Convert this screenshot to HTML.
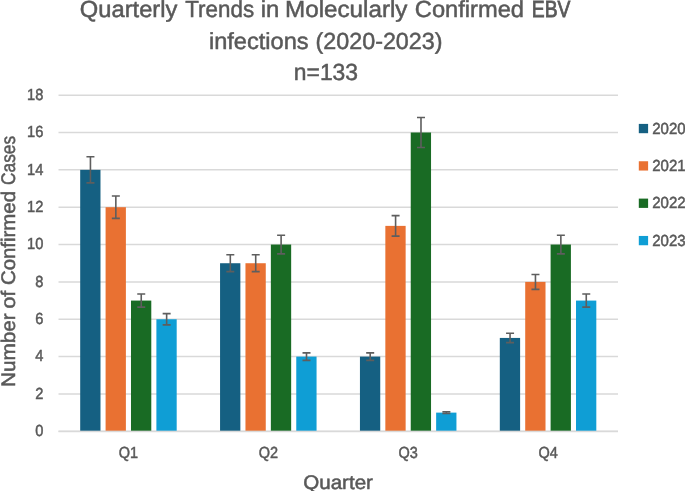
<!DOCTYPE html>
<html><head><meta charset="utf-8"><title>Quarterly Trends in Molecularly Confirmed EBV infections</title>
<style>html,body{margin:0;padding:0;background:#fff;}body{width:685px;height:491px;overflow:hidden;}svg{display:block;will-change:transform;}text{font-family:"Liberation Sans",sans-serif;fill:#595959;stroke:#595959;stroke-width:0.5px;text-rendering:geometricPrecision;}</style></head><body>
<svg width="685" height="491" viewBox="0 0 685 491">
<rect x="0" y="0" width="685" height="491" fill="#ffffff"/>
<line x1="58.5" y1="431.30" x2="618.0" y2="431.30" stroke="#D9D9D9" stroke-width="1.5"/>
<line x1="58.5" y1="393.95" x2="618.0" y2="393.95" stroke="#D9D9D9" stroke-width="1.5"/>
<line x1="58.5" y1="356.60" x2="618.0" y2="356.60" stroke="#D9D9D9" stroke-width="1.5"/>
<line x1="58.5" y1="319.25" x2="618.0" y2="319.25" stroke="#D9D9D9" stroke-width="1.5"/>
<line x1="58.5" y1="281.90" x2="618.0" y2="281.90" stroke="#D9D9D9" stroke-width="1.5"/>
<line x1="58.5" y1="244.55" x2="618.0" y2="244.55" stroke="#D9D9D9" stroke-width="1.5"/>
<line x1="58.5" y1="207.20" x2="618.0" y2="207.20" stroke="#D9D9D9" stroke-width="1.5"/>
<line x1="58.5" y1="169.85" x2="618.0" y2="169.85" stroke="#D9D9D9" stroke-width="1.5"/>
<line x1="58.5" y1="132.50" x2="618.0" y2="132.50" stroke="#D9D9D9" stroke-width="1.5"/>
<line x1="58.5" y1="95.15" x2="618.0" y2="95.15" stroke="#D9D9D9" stroke-width="1.5"/>
<rect x="80.19" y="169.85" width="20.30" height="261.05" fill="#156082"/>
<rect x="105.59" y="207.20" width="20.30" height="223.70" fill="#E97132"/>
<rect x="130.99" y="300.58" width="20.30" height="130.33" fill="#196B24"/>
<rect x="156.39" y="319.25" width="20.30" height="111.65" fill="#0F9ED5"/>
<rect x="220.06" y="263.23" width="20.30" height="167.68" fill="#156082"/>
<rect x="245.46" y="263.23" width="20.30" height="167.68" fill="#E97132"/>
<rect x="270.86" y="244.55" width="20.30" height="186.35" fill="#196B24"/>
<rect x="296.26" y="356.60" width="20.30" height="74.30" fill="#0F9ED5"/>
<rect x="359.94" y="356.60" width="20.30" height="74.30" fill="#156082"/>
<rect x="385.34" y="225.88" width="20.30" height="205.03" fill="#E97132"/>
<rect x="410.74" y="132.50" width="20.30" height="298.40" fill="#196B24"/>
<rect x="436.14" y="412.62" width="20.30" height="18.28" fill="#0F9ED5"/>
<rect x="499.81" y="337.93" width="20.30" height="92.98" fill="#156082"/>
<rect x="525.21" y="281.90" width="20.30" height="149.00" fill="#E97132"/>
<rect x="550.61" y="244.55" width="20.30" height="186.35" fill="#196B24"/>
<rect x="576.01" y="300.58" width="20.30" height="130.33" fill="#0F9ED5"/>
<line x1="58.5" y1="431.60" x2="618.0" y2="431.60" stroke="#D9D9D9" stroke-width="1.5"/>
<path d="M86.44 156.78H94.44M90.44 156.78V182.92M86.44 182.92H94.44" stroke="#5E5E5E" stroke-width="1.6" fill="none"/>
<path d="M111.84 196.00H119.84M115.84 196.00V218.41M111.84 218.41H119.84" stroke="#5E5E5E" stroke-width="1.6" fill="none"/>
<path d="M137.24 294.04H145.24M141.24 294.04V307.11M137.24 307.11H145.24" stroke="#5E5E5E" stroke-width="1.6" fill="none"/>
<path d="M162.64 313.65H170.64M166.64 313.65V324.85M162.64 324.85H170.64" stroke="#5E5E5E" stroke-width="1.6" fill="none"/>
<path d="M226.31 254.82H234.31M230.31 254.82V271.63M226.31 271.63H234.31" stroke="#5E5E5E" stroke-width="1.6" fill="none"/>
<path d="M251.71 254.82H259.71M255.71 254.82V271.63M251.71 271.63H259.71" stroke="#5E5E5E" stroke-width="1.6" fill="none"/>
<path d="M277.11 235.21H285.11M281.11 235.21V253.89M277.11 253.89H285.11" stroke="#5E5E5E" stroke-width="1.6" fill="none"/>
<path d="M302.51 352.87H310.51M306.51 352.87V360.34M302.51 360.34H310.51" stroke="#5E5E5E" stroke-width="1.6" fill="none"/>
<path d="M366.19 352.87H374.19M370.19 352.87V360.34M366.19 360.34H374.19" stroke="#5E5E5E" stroke-width="1.6" fill="none"/>
<path d="M391.59 215.60H399.59M395.59 215.60V236.15M391.59 236.15H399.59" stroke="#5E5E5E" stroke-width="1.6" fill="none"/>
<path d="M416.99 117.56H424.99M420.99 117.56V147.44M416.99 147.44H424.99" stroke="#5E5E5E" stroke-width="1.6" fill="none"/>
<path d="M442.39 411.69H450.39M446.39 411.69V413.56M442.39 413.56H450.39" stroke="#5E5E5E" stroke-width="1.6" fill="none"/>
<path d="M506.06 333.26H514.06M510.06 333.26V342.59M506.06 342.59H514.06" stroke="#5E5E5E" stroke-width="1.6" fill="none"/>
<path d="M531.46 274.43H539.46M535.46 274.43V289.37M531.46 289.37H539.46" stroke="#5E5E5E" stroke-width="1.6" fill="none"/>
<path d="M556.86 235.21H564.86M560.86 235.21V253.89M556.86 253.89H564.86" stroke="#5E5E5E" stroke-width="1.6" fill="none"/>
<path d="M582.26 294.04H590.26M586.26 294.04V307.11M582.26 307.11H590.26" stroke="#5E5E5E" stroke-width="1.6" fill="none"/>
<text x="35.15" y="436.05" font-size="16.0" textLength="8.15" lengthAdjust="spacingAndGlyphs">0</text>
<text x="35.15" y="398.70" font-size="16.0" textLength="8.15" lengthAdjust="spacingAndGlyphs">2</text>
<text x="35.15" y="361.35" font-size="16.0" textLength="8.15" lengthAdjust="spacingAndGlyphs">4</text>
<text x="35.15" y="324.00" font-size="16.0" textLength="8.15" lengthAdjust="spacingAndGlyphs">6</text>
<text x="35.15" y="286.65" font-size="16.0" textLength="8.15" lengthAdjust="spacingAndGlyphs">8</text>
<text x="27.00" y="249.30" font-size="16.0" textLength="16.30" lengthAdjust="spacingAndGlyphs">10</text>
<text x="27.00" y="211.95" font-size="16.0" textLength="16.30" lengthAdjust="spacingAndGlyphs">12</text>
<text x="27.00" y="174.60" font-size="16.0" textLength="16.30" lengthAdjust="spacingAndGlyphs">14</text>
<text x="27.00" y="137.25" font-size="16.0" textLength="16.30" lengthAdjust="spacingAndGlyphs">16</text>
<text x="27.00" y="99.90" font-size="16.0" textLength="16.30" lengthAdjust="spacingAndGlyphs">18</text>
<text x="128.44" y="458.2" font-size="16.0" text-anchor="middle" textLength="19.3" lengthAdjust="spacingAndGlyphs">Q1</text>
<text x="268.31" y="458.2" font-size="16.0" text-anchor="middle" textLength="19.3" lengthAdjust="spacingAndGlyphs">Q2</text>
<text x="408.19" y="458.2" font-size="16.0" text-anchor="middle" textLength="19.3" lengthAdjust="spacingAndGlyphs">Q3</text>
<text x="548.06" y="458.2" font-size="16.0" text-anchor="middle" textLength="19.3" lengthAdjust="spacingAndGlyphs">Q4</text>
<rect x="638.8" y="123.90" width="9.3" height="9.3" fill="#156082"/>
<text x="652.2" y="133.50" font-size="16.0" textLength="33.4" lengthAdjust="spacingAndGlyphs">2020</text>
<rect x="638.8" y="161.25" width="9.3" height="9.3" fill="#E97132"/>
<text x="652.2" y="170.85" font-size="16.0" textLength="33.4" lengthAdjust="spacingAndGlyphs">2021</text>
<rect x="638.8" y="198.60" width="9.3" height="9.3" fill="#196B24"/>
<text x="652.2" y="208.20" font-size="16.0" textLength="33.4" lengthAdjust="spacingAndGlyphs">2022</text>
<rect x="638.8" y="235.95" width="9.3" height="9.3" fill="#0F9ED5"/>
<text x="652.2" y="245.55" font-size="16.0" textLength="33.4" lengthAdjust="spacingAndGlyphs">2023</text>
<text x="79.87" y="17.30" font-size="23.3" textLength="97.49" lengthAdjust="spacingAndGlyphs">Quarterly</text>
<text x="185.29" y="17.30" font-size="23.3" textLength="68.81" lengthAdjust="spacingAndGlyphs">Trends</text>
<text x="260.76" y="17.30" font-size="23.3" textLength="18.60" lengthAdjust="spacingAndGlyphs">in</text>
<text x="285.06" y="17.30" font-size="23.3" textLength="122.42" lengthAdjust="spacingAndGlyphs">Molecularly</text>
<text x="414.80" y="17.30" font-size="23.3" textLength="109.22" lengthAdjust="spacingAndGlyphs">Confirmed</text>
<text x="531.81" y="17.30" font-size="23.3" textLength="38.66" lengthAdjust="spacingAndGlyphs" style="stroke-width:0.8px">EBV</text>
<text x="208.93" y="48.70" font-size="23.3" textLength="99.64" lengthAdjust="spacingAndGlyphs">infections</text>
<text x="315.51" y="48.70" font-size="23.3" textLength="127.03" lengthAdjust="spacingAndGlyphs">(2020-2023)</text>
<text x="293.80" y="80.00" font-size="23.3" textLength="64.25" lengthAdjust="spacingAndGlyphs">n=133</text>
<text x="303.20" y="488.80" font-size="19.6" textLength="69.78" lengthAdjust="spacingAndGlyphs">Quarter</text>
<text transform="translate(15.0 387.00) rotate(-90)" font-size="19.7" textLength="73.59" lengthAdjust="spacingAndGlyphs">Number</text>
<text transform="translate(15.0 308.80) rotate(-90)" font-size="19.7" textLength="18.17" lengthAdjust="spacingAndGlyphs">of</text>
<text transform="translate(15.0 285.01) rotate(-90)" font-size="19.7" textLength="93.99" lengthAdjust="spacingAndGlyphs">Confirmed</text>
<text transform="translate(15.0 185.00) rotate(-90)" font-size="19.7" textLength="49.18" lengthAdjust="spacingAndGlyphs">Cases</text>
</svg></body></html>
